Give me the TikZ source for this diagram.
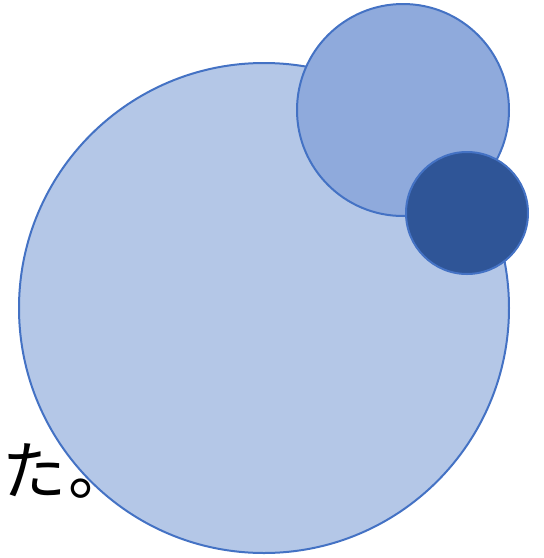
\documentclass[tikz,border=0pt]{standalone}
\usepackage{fontspec}
\newfontfamily\cjk{Noto Sans CJK JP}
\definecolor{edgeblue}{HTML}{4472C4}
\definecolor{bigfill}{HTML}{B4C7E7}
\definecolor{midfill}{HTML}{8FAADC}
\definecolor{smallfill}{HTML}{2F5597}
\begin{document}
\begin{tikzpicture}[x=1pt,y=-1pt,
  disc/.style={draw=edgeblue,line width=2pt,circle,inner sep=0pt}]
\useasboundingbox (0,0) rectangle (544,558);
\node[disc,fill=bigfill,minimum size=490pt] (big) at (264,308) {};
\node[disc,fill=midfill,minimum size=212pt] (mid) at (403,110) {};
\node[disc,fill=smallfill,minimum size=122pt] (small) at (467,213) {};
\node[anchor=base west,inner sep=0pt,font=\cjk\fontsize{64pt}{64pt}\selectfont] (txt) at (2,494) {た\kern2pt。};
\end{tikzpicture}
\end{document}
